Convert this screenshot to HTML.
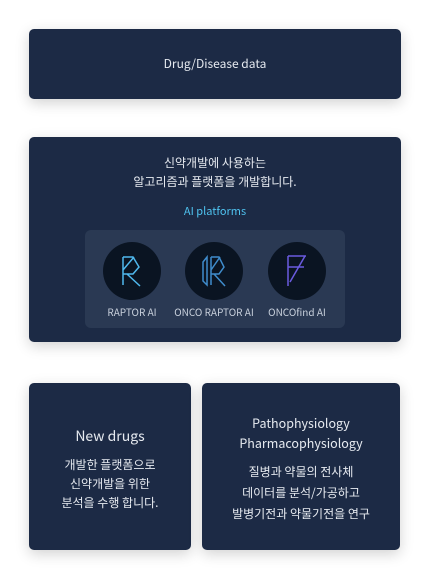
<!DOCTYPE html>
<html><head><meta charset="utf-8"><style>
body{margin:0;width:430px;height:579px;background:#fff;position:relative;font-family:"Noto Sans CJK KR","Liberation Sans",sans-serif;color:#e6eaf0;overflow:hidden}
.box{position:absolute;background:#1c2a45;border-radius:5px;box-shadow:0 4px 14px rgba(0,0,0,0.18);text-align:center}
.t{position:absolute;left:0;right:0;text-align:center}
.circ{position:absolute;width:58px;height:58px;border-radius:50%;background:#0a1422}
.lbl{position:absolute;width:100px;text-align:center;font-size:10px;color:#c8d0dc}
</style></head><body>
<div class="box" style="left:29px;top:29px;width:372px;height:70px">
 <div class="t" style="top:26px;font-size:12px">Drug/Disease data</div>
</div>
<div class="box" style="left:29px;top:137px;width:372px;height:205px">
 <div class="t" style="top:16px;font-size:12px;line-height:19px">신약개발에 사용하는<br>알고리즘과 플랫폼을 개발합니다.</div>
 <div class="t" style="top:66px;font-size:11px;color:#4fc3f0">AI platforms</div>
 <div style="position:absolute;left:56px;top:93px;width:260px;height:98px;background:#2a3953;border-radius:6px">
  <div class="circ" style="left:18px;top:12px"><svg width="58" height="58"><g fill="none" stroke="#4fb8ee" stroke-width="1.5"><path d="M20 15V43M20 15H30L36 25L30 32H20M24 32L37 44M20 28L31 15"/></g></svg></div>
  <div class="lbl" style="left:-3px;top:74px">RAPTOR AI</div>
  <div class="circ" style="left:100px;top:12px"><svg width="58" height="58"><g fill="none" stroke="#3f8ccc" stroke-width="1.5"><path d="M18 20L22 15V43L18 39ZM26 15V43M26 15H34L39 25L34 32H26M29 32L40 44M26 28L35 15"/></g></svg></div>
  <div class="lbl" style="left:79px;top:74px">ONCO RAPTOR AI</div>
  <div class="circ" style="left:183px;top:12px"><svg width="58" height="58"><g fill="none" stroke="#6a5be0" stroke-width="1.5"><path d="M20 14V44M20 14H38M20 25H36M22 40L37 14"/></g></svg></div>
  <div class="lbl" style="left:162px;top:74px">ONCOfind AI</div>
 </div>
</div>
<div class="box" style="left:29px;top:383px;width:162px;height:167px">
 <div class="t" style="top:43px;font-size:14px">New drugs</div>
 <div class="t" style="top:72px;font-size:12px;line-height:19px">개발한 플랫폼으로<br>신약개발을 위한<br>분석을 수행 합니다.</div>
</div>
<div class="box" style="left:202px;top:383px;width:198px;height:167px">
 <div class="t" style="top:30px;font-size:12.5px;line-height:20px">Pathophysiology<br>Pharmacophysiology</div>
 <div class="t" style="top:78px;font-size:12px;line-height:21px">질병과 약물의 전사체<br>데이터를 분석/가공하고<br>발병기전과 약물기전을 연구</div>
</div>
</body></html>
